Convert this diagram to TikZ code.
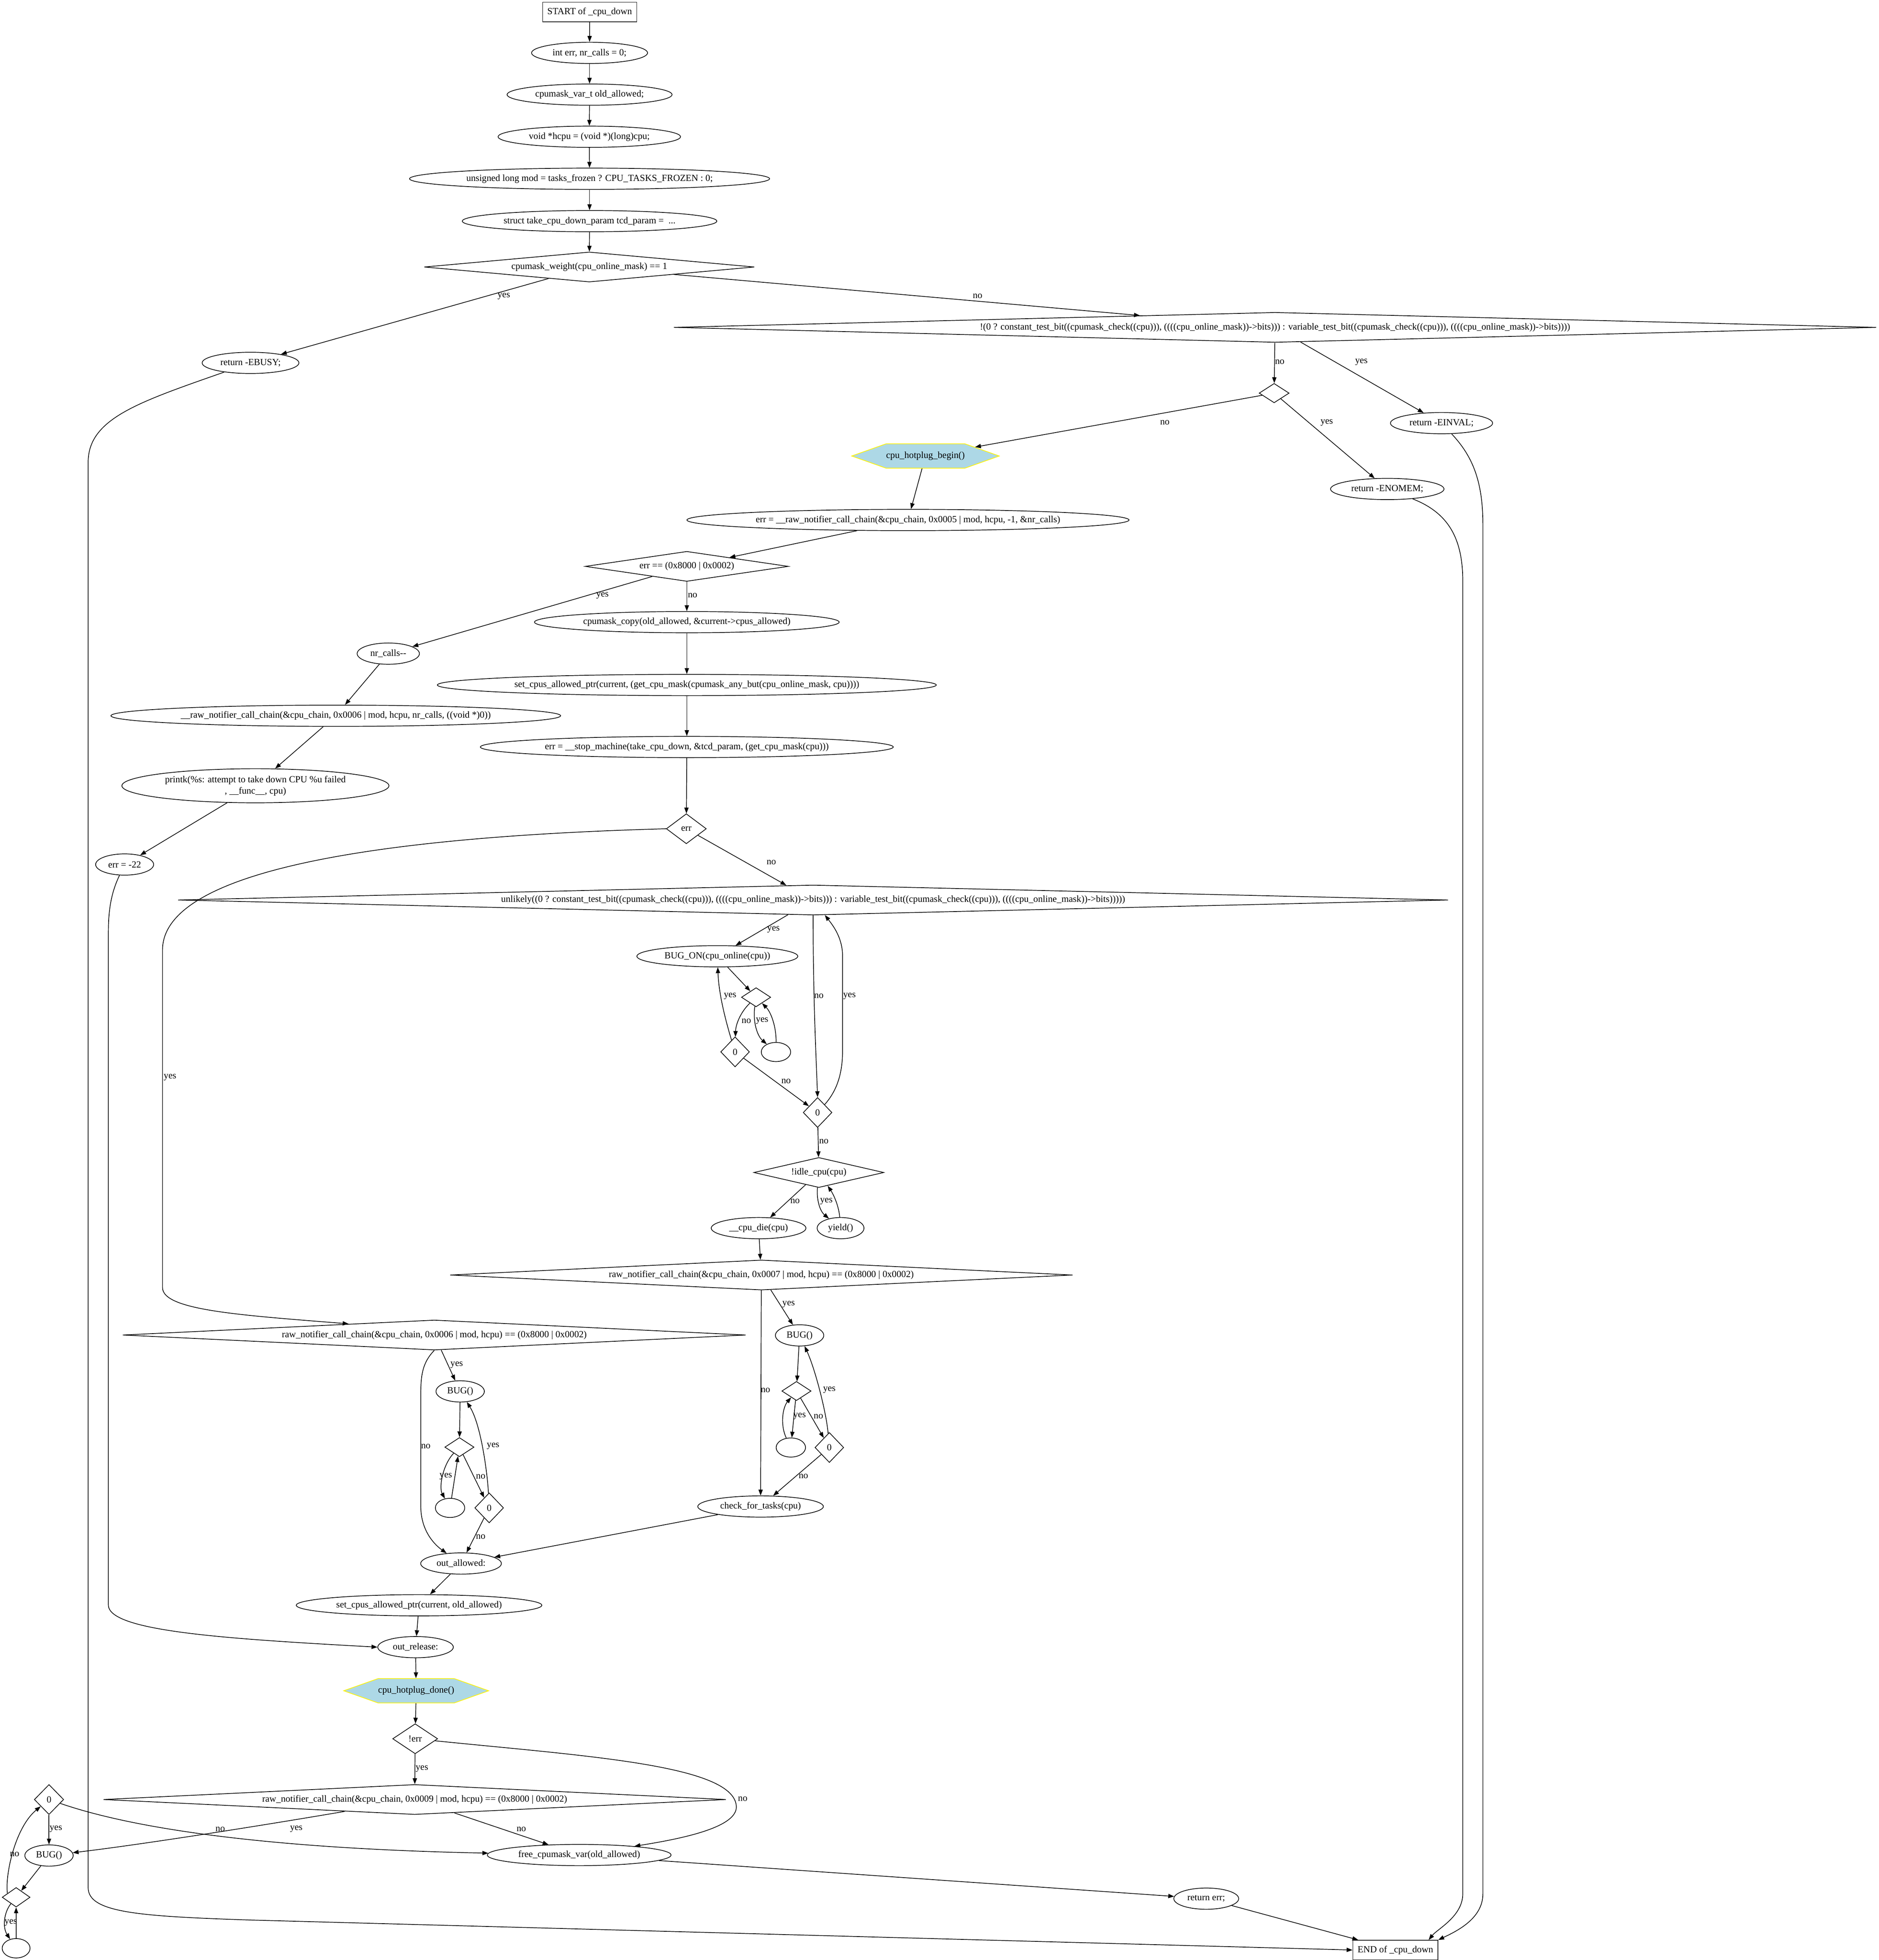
\documentclass[tikz,border=0pt]{standalone}
\usepackage{fontspec}
\setmainfont{Liberation Serif}
\usetikzlibrary{shapes.geometric,shapes.symbols,arrows.meta,calc}
\definecolor{lightblue}{RGB}{173,216,230}
\newcommand{\gvfont}{\fontsize{7.5}{9}\selectfont}
\tikzset{
  every node/.append style={font=\gvfont},
  ell/.style={ellipse, draw, line width=0.55pt, inner xsep=3.25pt, inner ysep=1pt, minimum height=17pt},
  eell/.style={ellipse, draw, line width=0.55pt, inner sep=0pt, minimum width=23.5pt, minimum height=15.3pt},
  boxs/.style={rectangle, draw, line width=0.55pt, inner xsep=3.8pt, inner ysep=0pt, minimum height=15.6pt},
  dia/.style n args={3}{diamond, draw, line width=0.55pt, inner sep=0pt, minimum width=#1pt, minimum height=#2pt, aspect=#3},
  hexa/.style={signal, signal to=east and west, signal pointer angle=39, draw=yellow, fill=lightblue, line width=0.55pt, inner sep=0pt, minimum width=#1pt, minimum height=19.5pt},
  conn/.style={draw, line width=0.55pt, -{Triangle[length=4.7pt,width=3.4pt]}},
  lbl/.style={inner sep=0pt},
}
\begin{document}
\begin{tikzpicture}[x=1pt,y=-1pt]
\useasboundingbox (0,0) rectangle (1503,1568);
% ---------------- nodes ----------------
\node[boxs] (start) at (471.7,9.6) {START of \_cpu\_down};
\node[ell] (n1) at (471.6,42.3) {int err, nr\_calls = 0;};
\node[ell] (n2) at (471.6,75.7) {cpumask\_var\_t old\_allowed;};
\node[ell] (n3) at (471.4,109.4) {void *hcpu = (void *)(long)cpu;};
\node[ell] (n4) at (471.6,143) {unsigned long mod = tasks\_frozen ? CPU\_TASKS\_FROZEN : 0;};
\node[ell] (n5) at (471.6,176.9) {struct take\_cpu\_down\_param tcd\_param = \ ...};
\node[dia={264}{24}{11}] (d1) at (471.4,213.6) {cpumask\_weight(cpu\_online\_mask) == 1};
\node[ell] (ebusy) at (200.4,290.3) {return -EBUSY;};
\node[dia={962}{24}{40.08}] (d2) at (1019.9,261.9) {!(0 ? constant\_test\_bit((cpumask\_check((cpu))), ((((cpu\_online\_mask))->bits))) : variable\_test\_bit((cpumask\_check((cpu))), ((((cpu\_online\_mask))->bits))))};
\node[dia={24}{15.5}{1.55}] (d3) at (1019.2,314.5) {};
\node[ell] (einval) at (1153.1,338.5) {return -EINVAL;};
\node[hexa=111] (begin) at (740.3,364.8) {cpu\_hotplug\_begin()};
\node[ell] (enomem) at (1109.7,391.2) {return -ENOMEM;};
\node[ell] (call5) at (726.3,416) {err = \_\_raw\_notifier\_call\_chain(\&cpu\_chain, 0x0005 | mod, hcpu, -1, \&nr\_calls)};
\node[dia={162.5}{24}{6.77}] (d4) at (549.4,453.1) {err == (0x8000 | 0x0002)};
\node[ell] (copy) at (549.4,497.7) {cpumask\_copy(old\_allowed, \&current->cpus\_allowed)};
\node[ell] (nrcalls) at (310.6,522.9) {nr\_calls-{}-};
\node[ell] (setcpus) at (549.4,548) {set\_cpus\_allowed\_ptr(current, (get\_cpu\_mask(cpumask\_any\_but(cpu\_online\_mask, cpu))))};
\node[ell] (call6) at (268.6,572.6) {\_\_raw\_notifier\_call\_chain(\&cpu\_chain, 0x0006 | mod, hcpu, nr\_calls, ((void *)0))};
\node[ell] (stop) at (549.4,597.6) {err = \_\_stop\_machine(take\_cpu\_down, \&tcd\_param, (get\_cpu\_mask(cpu)))};
\node[ell, align=center, inner ysep=1.7pt] (printk) at (204.3,628.6) {printk(\%s: attempt to take down CPU \%u failed\\, \_\_func\_\_, cpu)};
\node[dia={32}{24}{1.33}] (d5) at (549,663) {err};
\node[ell] (err22) at (99.7,691.6) {err = -22};
\node[dia={1016}{24}{42.3}] (d6) at (650.4,720) {unlikely((0 ? constant\_test\_bit((cpumask\_check((cpu))), ((((cpu\_online\_mask))->bits))) : variable\_test\_bit((cpumask\_check((cpu))), ((((cpu\_online\_mask))->bits)))))};
\node[ell] (bugon) at (573.8,765) {BUG\_ON(cpu\_online(cpu))};
\node[dia={23.4}{15.3}{1.53}] (sd1) at (604.8,797.8) {};
\node[dia={23}{24}{0.96}] (z1) at (588,841.5) {0};
\node[eell] (e1) at (620.7,841.6) {};
\node[dia={23}{24}{0.96}] (z2) at (654,890) {0};
\node[dia={104}{24}{4.33}] (idle) at (655,938) {!idle\_cpu(cpu)};
\node[ell] (cpudie) at (606.8,982.5) {\_\_cpu\_die(cpu)};
\node[ell] (yield) at (672.4,982.5) {yield()};
\node[dia={498}{24}{20.75}] (d7) at (609,1020) {raw\_notifier\_call\_chain(\&cpu\_chain, 0x0007 | mod, hcpu) == (0x8000 | 0x0002)};
\node[ell] (bug7) at (639.6,1068.3) {BUG()};
\node[dia={23.4}{15.3}{1.53}] (sd7) at (637.1,1112.8) {};
\node[eell] (e7) at (632.6,1158) {};
\node[dia={23}{24}{0.96}] (z7) at (663.4,1158) {0};
\node[ell] (check) at (608.4,1205.2) {check\_for\_tasks(cpu)};
\node[dia={498.4}{24}{20.77}] (d8) at (347.4,1068) {raw\_notifier\_call\_chain(\&cpu\_chain, 0x0006 | mod, hcpu) == (0x8000 | 0x0002)};
\node[ell] (bug8) at (368.1,1113.1) {BUG()};
\node[dia={23.4}{15.3}{1.53}] (sd8) at (367.5,1157.7) {};
\node[eell] (e8) at (360,1206.3) {};
\node[dia={23}{24}{0.96}] (z8) at (391.3,1206.3) {0};
\node[ell] (outallowed) at (368.8,1250.8) {out\_allowed:};
\node[ell] (setold) at (335.2,1284.2) {set\_cpus\_allowed\_ptr(current, old\_allowed)};
\node[ell] (outrelease) at (332.4,1317.7) {out\_release:};
\node[hexa=107] (done) at (332.9,1352.6) {cpu\_hotplug\_done()};
\node[dia={36}{24}{1.5}] (noterr) at (332.1,1391) {!err};
\node[dia={498}{24}{20.75}] (d9) at (331.7,1439.6) {raw\_notifier\_call\_chain(\&cpu\_chain, 0x0009 | mod, hcpu) == (0x8000 | 0x0002)};
\node[dia={23.5}{24}{0.98}] (zl) at (39.2,1439.6) {0};
\node[ell] (bugl) at (39.2,1484.4) {BUG()};
\node[ell] (free) at (463.3,1484) {free\_cpumask\_var(old\_allowed)};
\node[dia={22.3}{15.6}{1.43}] (sl) at (12.9,1517.8) {};
\node[eell, minimum width=22.3pt, minimum height=15.5pt] (el) at (12.9,1558.6) {};
\node[ell] (returnerr) at (964.9,1518.9) {return err;};
\node[boxs] (end) at (1116.2,1560) {END of \_cpu\_down};
% ---------------- connectors ----------------
\draw[conn] (start) -- (n1);
\draw[conn] (n1) -- (n2);
\draw[conn] (n2) -- (n3);
\draw[conn] (n3) -- (n4);
\draw[conn] (n4) -- (n5);
\draw[conn] (n5) -- (d1);
\draw[conn] (d1) -- (ebusy) node[lbl,at={(403,237)}] {yes};
\draw[conn] (d1) -- (d2) node[lbl,at={(782,237)}] {no};
\draw[conn] (ebusy) .. controls (110,322) and (70.5,335) .. (70.5,370) -- (70.5,1510) .. controls (70.5,1530) and (110,1533) .. (200,1536) -- (end.west);
\draw[conn] (d2) -- (d3) node[lbl,at={(1023.7,289.7)}] {no};
\draw[conn] (d2) -- (einval) node[lbl,at={(1089,289.7)}] {yes};
\draw[conn] (d3) -- (begin) node[lbl,at={(931.8,338)}] {no};
\draw[conn] (d3) -- (enomem) node[lbl,at={(1061.3,338)}] {yes};
\draw[conn] (einval) .. controls (1178,365) and (1186.2,385) .. (1186.2,420) -- (1186.2,1515) .. controls (1186.2,1535) and (1165,1545) .. (end.north east);
\draw[conn] (enomem) .. controls (1158,410) and (1170.1,430) .. (1170.1,465) -- (1170.1,1515) .. controls (1170.1,1533) and (1150,1543) .. ($(end.north)+(26.6,0)$);
\draw[conn] (begin) -- (call5);
\draw[conn] (call5) -- (d4);
\draw[conn] (d4) -- (nrcalls) node[lbl,at={(481.9,476.4)}] {yes};
\draw[conn] (d4) -- (copy) node[lbl,at={(554,476.4)}] {no};
\draw[conn] (copy) -- (setcpus);
\draw[conn] (setcpus) -- (stop);
\draw[conn] (stop) -- (d5);
\draw[conn] (nrcalls) -- (call6);
\draw[conn] (call6) -- (printk);
\draw[conn] (printk) -- (err22);
\draw[conn] (err22) .. controls (90,712) and (86.7,725) .. (86.7,745) -- (86.7,1284) .. controls (86.7,1305) and (180,1311) .. (outrelease.west);
\draw[conn] (d5) -- ($(d6.north)+(-21.4,0.5)$) node[lbl,at={(617,690)}] {no};
\draw[conn] (d5.west) .. controls (350,668) and (130,688) .. (130,760) -- (130,1030) .. controls (130,1048) and (190,1052) .. ($(d8.north)+(-68.6,3.3)$) node[lbl,at={(136,862)}] {yes};
\draw[conn] (d6) -- (bugon) node[lbl,at={(618.7,743.6)}] {yes};
\draw[conn] (bugon) -- (sd1);
\draw[conn] (sd1) .. controls (592,810) and (588.5,820) .. (z1) node[lbl,at={(597,816.7)}] {no};
\draw[conn] (sd1) .. controls (602,818) and (606,829) .. (e1) node[lbl,at={(609.6,816.7)}] {yes};
\draw[conn] (e1) .. controls (621,822) and (617,810) .. (sd1);
\draw[conn] (z1) .. controls (580,815) and (575,795) .. (bugon) node[lbl,at={(584,796.8)}] {yes};
\draw[conn] (z1) -- (z2) node[lbl,at={(628.8,865)}] {no};
\draw[conn] (d6.south) .. controls (650.4,800) and (653,850) .. (z2.north) node[lbl,at={(655,796.8)}] {no};
\draw[conn] (z2) .. controls (670,872) and (674,858) .. (674,840) -- (674,765) .. controls (674,750) and (666,740) .. (d6) node[lbl,at={(679.5,796.8)}] {yes};
\draw[conn] (z2) -- (idle) node[lbl,at={(659,913)}] {no};
\draw[conn] (idle) -- (cpudie) node[lbl,at={(636,961)}] {no};
\draw[conn] (idle) .. controls (653,960) and (656,969) .. (yield) node[lbl,at={(661,961)}] {yes};
\draw[conn] (yield) .. controls (671,965) and (667,956) .. (idle);
\draw[conn] (cpudie) -- (d7);
\draw[conn] (d7) -- (check) node[lbl,at={(612.3,1112)}] {no};
\draw[conn] (d7) -- (bug7) node[lbl,at={(630.8,1043.3)}] {yes};
\draw[conn] (bug7) -- (sd7);
\draw[conn] (sd7) -- (e7) node[lbl,at={(639.6,1133)}] {yes};
\draw[conn] (e7) .. controls (624,1140) and (626,1126) .. (sd7);
\draw[conn] (sd7) -- (z7) node[lbl,at={(654.7,1133)}] {no};
\draw[conn] (z7) .. controls (661,1130) and (652,1095) .. (bug7) node[lbl,at={(663.4,1112)}] {yes};
\draw[conn] (z7) -- (check) node[lbl,at={(642.7,1181)}] {no};
\draw[conn] (check) -- (outallowed);
\draw[conn] (d8.south) .. controls (338,1090) and (336.6,1100) .. (336.6,1115) -- (336.6,1205) .. controls (336.6,1225) and (348,1236) .. (outallowed) node[lbl,at={(340.6,1157)}] {no};
\draw[conn] (d8) -- (bug8) node[lbl,at={(365.3,1091.8)}] {yes};
\draw[conn] (bug8) -- (sd8);
\draw[conn] (sd8) .. controls (354,1172) and (351,1190) .. (e8) node[lbl,at={(356.6,1181.2)}] {yes};
\draw[conn] (e8) -- (sd8);
\draw[conn] (sd8) -- (z8) node[lbl,at={(384.5,1181.2)}] {no};
\draw[conn] (z8) .. controls (390,1180) and (385,1140) .. (bug8) node[lbl,at={(394.4,1157)}] {yes};
\draw[conn] (z8) -- (outallowed) node[lbl,at={(384.5,1229.4)}] {no};
\draw[conn] (outallowed) -- (setold);
\draw[conn] (setold) -- (outrelease);
\draw[conn] (outrelease) -- (done);
\draw[conn] (done) -- (noterr);
\draw[conn] (noterr) -- (d9) node[lbl,at={(337.5,1414.9)}] {yes};
\draw[conn] (noterr) .. controls (470,1405) and (587,1412) .. (589,1445) .. controls (590,1462) and (545,1471) .. (free) node[lbl,at={(594.1,1439)}] {no};
\draw[conn] (d9) .. controls (200,1462) and (110,1476) .. (bugl) node[lbl,at={(237,1463.3)}] {yes};
\draw[conn] (d9) -- (free) node[lbl,at={(417,1463.3)}] {no};
\draw[conn] (zl) -- (bugl) node[lbl,at={(44.7,1463.3)}] {yes};
\draw[conn] (zl) .. controls (110,1464) and (220,1479) .. (free) node[lbl,at={(176.2,1463.3)}] {no};
\draw[conn] (bugl) -- (sl);
\draw[conn] (sl) .. controls (3,1530) and (2,1542) .. (el) node[lbl,at={(8.6,1538)}] {yes};
\draw[conn] (el) -- (sl);
\draw[conn] ($(sl.center)+(-7,-3.3)$) .. controls (4,1500) and (12,1462) .. (zl) node[lbl,at={(11.7,1483.5)}] {no};
\draw[conn] (free) -- (returnerr);
\draw[conn] (returnerr) -- (end);
\end{tikzpicture}
\end{document}
